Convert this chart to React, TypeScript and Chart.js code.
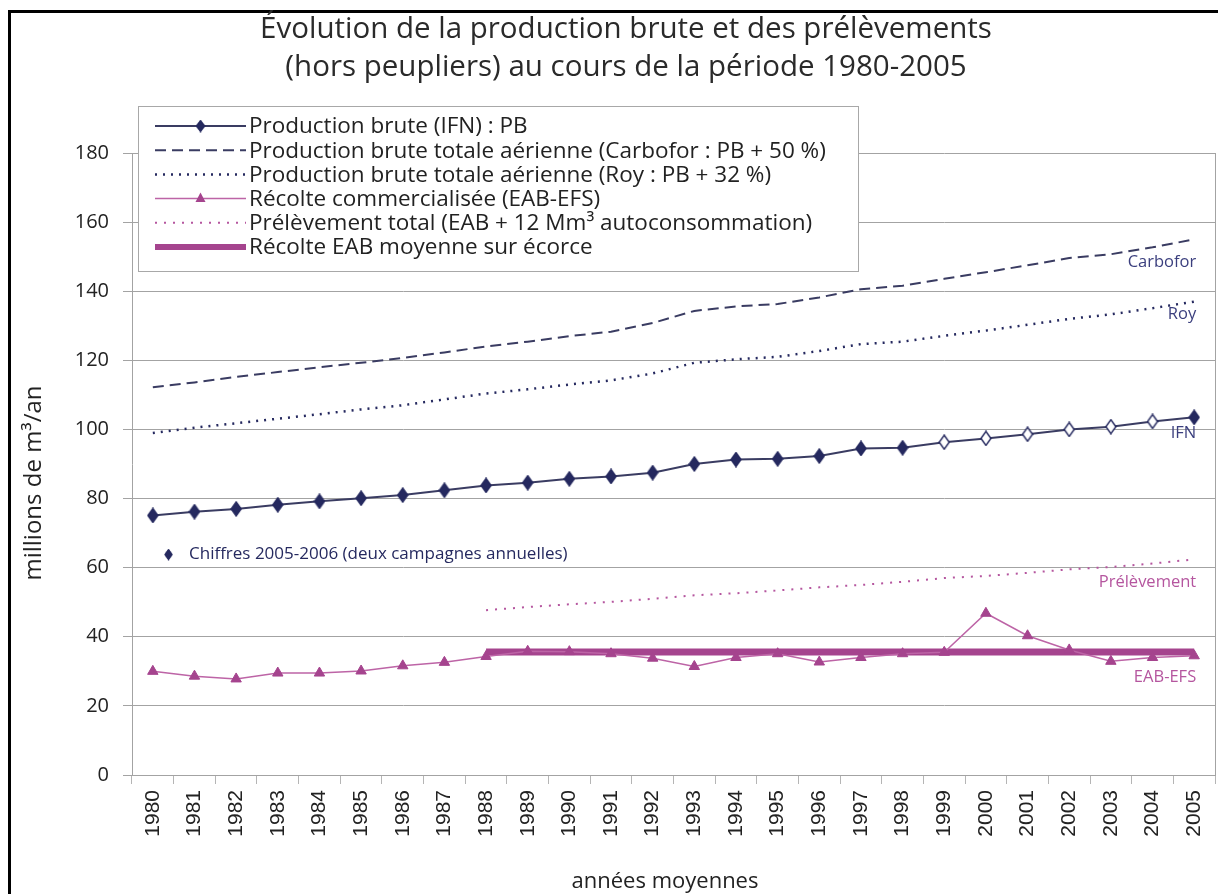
import React, { useEffect, useRef } from 'react';
import { Chart, registerables } from 'chart.js';

Chart.register(...registerables);

// ---------- DATA ----------
const years = ['1980', '1981', '1982', '1983', '1984', '1985', '1986', '1987', '1988', '1989', '1990', '1991', '1992',
  '1993', '1994', '1995', '1996', '1997', '1998', '1999', '2000', '2001', '2002', '2003', '2004', '2005'];

const productionBruteIFN = [75.1, 76.2, 77.0, 78.2, 79.2, 80.1, 81.0, 82.4, 83.8, 84.6, 85.7, 86.4, 87.5,
  90.0, 91.3, 91.5, 92.3, 94.5, 94.7, 96.3, 97.4, 98.6, 100.0, 100.8, 102.3, 103.5];

const carbofor = [112.2, 113.6, 115.2, 116.6, 118.0, 119.3, 120.7, 122.3, 124.0, 125.4, 127.0, 128.3, 130.8,
  134.3, 135.6, 136.3, 138.2, 140.6, 141.6, 143.6, 145.5, 147.5, 149.6, 150.7, 152.7, 155.0];

const roy = [99.0, 100.5, 101.8, 103.1, 104.4, 105.8, 107.0, 108.7, 110.4, 111.6, 113.0, 114.2, 116.2,
  119.3, 120.3, 121.0, 122.7, 124.7, 125.4, 127.1, 128.6, 130.3, 132.0, 133.3, 135.1, 137.0];

const recolteCommercialisee = [30.0, 28.6, 27.8, 29.5, 29.5, 30.1, 31.6, 32.6, 34.3, 35.8, 35.7, 35.1, 33.8,
  31.4, 34.0, 35.1, 32.7, 34.0, 35.1, 35.5, 46.8, 40.3, 36.2, 32.9, 34.0, 34.5];

const prelevementTotal = [null, null, null, null, null, null, null, null, 47.7, 48.6, 49.4, 50.1, 51.0,
  52.0, 52.6, 53.4, 54.3, 55.0, 55.9, 57.0, 57.6, 58.5, 59.5, 60.2, 61.2, 62.4];

const recolteMoyenne = [null, null, null, null, null, null, null, null, 35.6, 35.6, 35.6, 35.6, 35.6,
  35.6, 35.6, 35.6, 35.6, 35.6, 35.6, 35.6, 35.6, 35.6, 35.6, 35.6, 35.6, 35.6];

// years whose IFN diamond is drawn hollow (2005-2006 campaigns)
const hollowYears = ['1999', '2000', '2001', '2002', '2003', '2004'];

const titleLines = ['Évolution de la production brute et des prélèvements', '(hors peupliers) au cours de la période 1980-2005'];
const legendLabels = [
  'Production brute (IFN) : PB',
  'Production brute totale aérienne (Carbofor : PB + 50 %)',
  'Production brute totale aérienne (Roy : PB + 32 %)',
  'Récolte commercialisée (EAB-EFS)',
  'Prélèvement total (EAB + 12 Mm³ autoconsommation)',
  'Récolte EAB moyenne sur écorce',
];
const yTitle = 'millions de m³/an';
const xTitle = 'années moyennes';
const noteText = 'Chiffres 2005-2006 (deux campagnes annuelles)';

// ---------- STYLE ----------
const NAVY = '#25295f';
const NAVY_LINE = '#3a3c62';
const MAGENTA = '#a5448e';
const MAGENTA_LINE = '#bd64a6';
const GRID = '#a3a3a3';
const TEXT = '#222222';
const SANS = '"Open Sans", "DejaVu Sans", sans-serif';

function makeDiamond(filled: boolean): HTMLCanvasElement {
  const c = document.createElement('canvas');
  c.width = 12;
  c.height = 16;
  const g = c.getContext('2d')!;
  g.beginPath();
  g.moveTo(6, 1);
  g.lineTo(11, 8);
  g.lineTo(6, 15);
  g.lineTo(1, 8);
  g.closePath();
  g.fillStyle = filled ? NAVY : '#ffffff';
  g.fill();
  g.lineWidth = 1.4;
  g.strokeStyle = NAVY;
  g.stroke();
  return c;
}

export default function App() {
  const ref = useRef<HTMLCanvasElement | null>(null);

  useEffect(() => {
    if (!ref.current) return;
    const filledD = makeDiamond(true);
    const hollowD = makeDiamond(false);
    const ifnStyles = years.map((y) => (hollowYears.includes(y) ? hollowD : filledD));

    const overlay = {
      id: 'overlay',
      afterDraw(chart: any) {
        const ctx: CanvasRenderingContext2D = chart.ctx;
        const ca = chart.chartArea;
        const xs = chart.scales.x;
        const ys = chart.scales.y;
        ctx.save();
        // right frame of plot area
        ctx.strokeStyle = GRID;
        ctx.lineWidth = 1;
        ctx.beginPath();
        ctx.moveTo(Math.round(ca.right) + 0.5, ca.top);
        ctx.lineTo(Math.round(ca.right) + 0.5, ca.bottom);
        ctx.stroke();

        // title
        ctx.fillStyle = '#2a2a2a';
        ctx.textAlign = 'center';
        ctx.textBaseline = 'middle';
        ctx.font = `29.5px ${SANS}`;
        ctx.fillText(titleLines[0], 618, 22);
        ctx.fillText(titleLines[1], 618, 60);

        // axis titles
        ctx.fillStyle = TEXT;
        ctx.font = `22px ${SANS}`;
        ctx.fillText(xTitle, 657, 874);
        ctx.save();
        ctx.font = `24px ${SANS}`;
        ctx.translate(26, 475);
        ctx.rotate(-Math.PI / 2);
        ctx.fillText(yTitle, 0, 0);
        ctx.restore();

        // right-side labels
        const xr = xs.getPixelForValue(years.length - 1) + 2;
        ctx.textAlign = 'right';
        ctx.font = `16.5px ${SANS}`;
        ctx.fillStyle = '#3b3f7e';
        ctx.fillText('Carbofor', xr, ys.getPixelForValue(148.4));
        ctx.fillText('Roy', xr, ys.getPixelForValue(133.2));
        ctx.fillText('IFN', xr, ys.getPixelForValue(98.8));
        ctx.fillStyle = '#b5569f';
        ctx.fillText('Prélèvement', xr, ys.getPixelForValue(55.9));
        ctx.fillText('EAB-EFS', xr, ys.getPixelForValue(28.2));

        // note with diamond
        const ny = ys.getPixelForValue(63.8);
        ctx.drawImage(filledD, 156, ny - 6, 9, 12);
        ctx.fillStyle = NAVY;
        ctx.textAlign = 'left';
        ctx.font = `17px ${SANS}`;
        ctx.fillText(noteText, 181, ny);

        // legend box
        const lx = 130, ly = 98, lw = 720, lh = 165;
        ctx.fillStyle = '#ffffff';
        ctx.fillRect(lx, ly, lw, lh);
        ctx.strokeStyle = '#a8a8a8';
        ctx.lineWidth = 1;
        ctx.strokeRect(lx + 0.5, ly + 0.5, lw, lh);
        const sx0 = 147, sx1 = 238, tx = 241;
        legendLabels.forEach((lab, i) => {
          const ry = 118 + i * 24.2;
          ctx.save();
          ctx.beginPath();
          ctx.setLineDash([]);
          if (i === 0) {
            ctx.strokeStyle = NAVY_LINE; ctx.lineWidth = 2;
            ctx.moveTo(sx0, ry); ctx.lineTo(sx1, ry); ctx.stroke();
            ctx.drawImage(filledD, (sx0 + sx1) / 2 - 5, ry - 6.5, 10, 13);
          } else if (i === 1) {
            ctx.strokeStyle = NAVY_LINE; ctx.lineWidth = 2; ctx.setLineDash([11, 6]);
            ctx.moveTo(sx0, ry); ctx.lineTo(sx1, ry); ctx.stroke();
          } else if (i === 2) {
            ctx.strokeStyle = NAVY; ctx.lineWidth = 2.5; ctx.setLineDash([2, 6]);
            ctx.moveTo(sx0, ry); ctx.lineTo(sx1, ry); ctx.stroke();
          } else if (i === 3) {
            ctx.strokeStyle = MAGENTA_LINE; ctx.lineWidth = 1.5;
            ctx.moveTo(sx0, ry); ctx.lineTo(sx1, ry); ctx.stroke();
            const cx = (sx0 + sx1) / 2;
            ctx.beginPath();
            ctx.moveTo(cx, ry - 6); ctx.lineTo(cx + 5, ry + 3.5); ctx.lineTo(cx - 5, ry + 3.5); ctx.closePath();
            ctx.fillStyle = MAGENTA; ctx.fill();
          } else if (i === 4) {
            ctx.strokeStyle = '#b5569f'; ctx.lineWidth = 2; ctx.setLineDash([2, 7]);
            ctx.moveTo(sx0, ry); ctx.lineTo(sx1, ry); ctx.stroke();
          } else {
            ctx.strokeStyle = MAGENTA; ctx.lineWidth = 6;
            ctx.moveTo(sx0, ry); ctx.lineTo(sx1, ry); ctx.stroke();
          }
          ctx.restore();
          ctx.fillStyle = TEXT;
          ctx.textAlign = 'left';
          ctx.textBaseline = 'middle';
          ctx.font = `22.5px ${SANS}`;
          ctx.fillText(lab, tx, ry + 1);
        });
        ctx.restore();
      },
    };

    const chart = new Chart(ref.current, {
      type: 'line',
      data: {
        labels: years,
        datasets: [
          {
            label: legendLabels[0],
            data: productionBruteIFN,
            borderColor: NAVY_LINE,
            borderWidth: 2,
            pointStyle: ifnStyles as any,
            pointRadius: 7,
            tension: 0,
            order: 1,
          },
          {
            label: legendLabels[1],
            data: carbofor,
            borderColor: NAVY_LINE,
            borderWidth: 2,
            borderDash: [11, 6],
            pointRadius: 0,
            tension: 0,
            order: 3,
          },
          {
            label: legendLabels[2],
            data: roy,
            borderColor: NAVY,
            borderWidth: 2.5,
            borderDash: [2, 6],
            pointRadius: 0,
            tension: 0,
            order: 4,
          },
          {
            label: legendLabels[3],
            data: recolteCommercialisee,
            borderColor: MAGENTA_LINE,
            borderWidth: 1.5,
            pointStyle: 'triangle',
            pointRadius: 6,
            pointBackgroundColor: MAGENTA,
            pointBorderColor: MAGENTA,
            pointBorderWidth: 1,
            tension: 0,
            order: 2,
          },
          {
            label: legendLabels[4],
            data: prelevementTotal as any,
            borderColor: '#b5569f',
            borderWidth: 2,
            borderDash: [2, 7],
            pointRadius: 0,
            tension: 0,
            spanGaps: false,
            order: 5,
          },
          {
            label: legendLabels[5],
            data: recolteMoyenne as any,
            borderColor: MAGENTA,
            borderWidth: 7,
            pointRadius: 0,
            tension: 0,
            borderCapStyle: 'butt',
            order: 6,
          },
        ],
      },
      options: {
        responsive: false,
        animation: false,
        devicePixelRatio: 1,
        layout: { padding: { top: 145, right: 11, left: 0, bottom: 0 } },
        plugins: {
          legend: { display: false },
          title: { display: false },
          tooltip: { enabled: false },
        },
        scales: {
          x: {
            offset: true,
            grid: {
              offset: true,
              drawOnChartArea: false,
              drawTicks: true,
              tickLength: 9,
              color: '#b5b5b5',
            },
            border: { color: GRID, width: 1 },
            ticks: {
              minRotation: 90,
              maxRotation: 90,
              autoSkip: false,
              padding: 6,
              color: TEXT,
              font: { family: '"Liberation Sans", Arial, sans-serif', size: 21 },
            },
            afterFit: (s: any) => { s.height = 119; },
          },
          y: {
            min: 0,
            max: 180,
            ticks: {
              stepSize: 20,
              padding: 14,
              color: TEXT,
              font: { family: SANS, size: 20 },
            },
            grid: { color: GRID, lineWidth: 1, tickLength: 9 },
            border: { color: GRID, width: 1 },
            afterFit: (s: any) => { s.width = 124; },
          },
        },
      },
      plugins: [overlay],
    });
    return () => chart.destroy();
  }, []);

  return (
    <div style={{ position: 'relative', width: 1218, height: 886, overflow: 'hidden', background: '#fff' }}>
      <div
        style={{
          position: 'absolute',
          left: 0,
          top: 2,
          width: 1400,
          height: 1000,
          border: '3px solid #000',
          boxSizing: 'border-box',
        }}
      />
      <canvas ref={ref} width={1218} height={886} style={{ position: 'absolute', left: 0, top: 0, display: 'block' }} />
    </div>
  );
}
